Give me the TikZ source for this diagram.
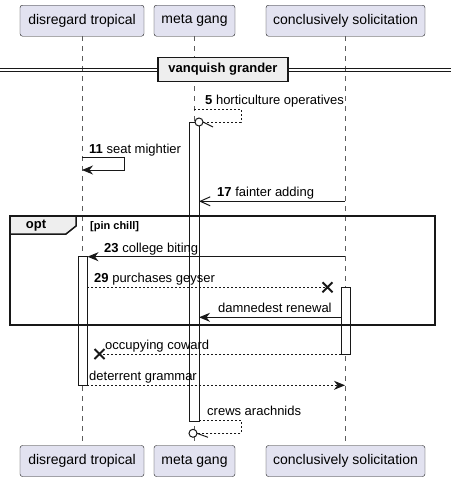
\documentclass[tikz,border=0pt]{standalone}
\usepackage{fontspec}
\setmainfont{Liberation Sans}
\usetikzlibrary{arrows.meta}
\definecolor{partfill}{HTML}{E2E2F0}
\definecolor{partline}{HTML}{181818}
\definecolor{grpfill}{HTML}{EEEEEE}

\begin{document}
\begin{tikzpicture}[x=1pt, y=-1pt, font=\fontsize{13}{15}\selectfont,
  part/.style={draw=partline, fill=partfill, rounded corners=2.5pt, minimum height=31pt, inner xsep=7pt, font=\fontsize{14}{16}\selectfont},
  lifeline/.style={draw=partline!70, line width=0.5pt, dash pattern=on 5pt off 5pt},
  actbar/.style={draw=partline, fill=white, line width=1pt},
  msg/.style={draw=partline, line width=1pt},
  reply/.style={msg, dash pattern=on 2pt off 2pt},
  head/.style={-{Stealth[length=11pt, width=9pt, inset=3.5pt]}},
  openhead/.style={-{Straight Barb[length=10pt, width=9pt]}},
  lbl/.style={anchor=base west, inner sep=0pt},
  cross/.style={draw=partline, line width=2pt},
  endcirc/.style={draw=partline, fill=white, circle, minimum size=8pt, inner sep=0pt, line width=1pt},
]
\useasboundingbox (0,0) rectangle (451,482);

% Participants
\node[part, minimum width=124pt] (dtT) at (82,20.7) {disregard tropical};
\node[part, minimum width=81pt] (mgT) at (194.5,20.7) {meta gang};
\node[part, minimum width=159pt] (csT) at (345.5,20.7) {conclusively solicitation};
\node[part, minimum width=124pt] (dtB) at (82,461) {disregard tropical};
\node[part, minimum width=81pt] (mgB) at (194.5,461) {meta gang};
\node[part, minimum width=159pt] (csB) at (345.5,461) {conclusively solicitation};

% Lifelines
\draw[lifeline] (dtT) -- (dtB);
\draw[lifeline] ([xshift=-0.5pt]mgT.south) -- ([xshift=-0.5pt]mgB.north);
\draw[lifeline] ([xshift=-0.5pt]csT.south) -- ([xshift=-0.5pt]csB.north);

% Divider
\draw[draw=partline, line width=1pt] (0,68) -- (451,68) (0,71) -- (451,71);
\node[draw=partline, fill=grpfill, line width=1.5pt, minimum width=130pt, minimum height=24pt, font=\bfseries\fontsize{13}{15}\selectfont] (sep) at (223,69.5) {vanquish grander};

% Activations
\draw[actbar] (189,122) rectangle (199,421);
\draw[actbar] (78,256.7) rectangle (87,385.3);
\draw[actbar] (341,287.3) rectangle (350,354);

% 5
\coordinate (m5a) at (194,109);
\coordinate (m5b) at (203,122);
\draw[reply] (m5a) -- ++(47,0) -- ++(0,13) -- (m5b);
\node[endcirc] (o5) at (199,122) {};
\draw[msg] (m5b) -- ++(10,5);
\node[lbl] (l5) at (205,104.5) {\textbf{5} horticulture operatives};

% 11
\coordinate (m11a) at (82,157);
\coordinate (m11b) at (82,170);
\draw[msg, head] (m11a) -- ++(42,0) -- ++(0,13) -- (m11b);
\node[lbl] (l11) at (89,153) {\textbf{11} seat mightier};

% 17
\coordinate (m17a) at (345,201.3);
\coordinate (m17b) at (199,201.3);
\draw[msg, openhead] (m17a) -- (m17b);
\node[lbl] (l17) at (217,196.5) {\textbf{17} fainter adding};

% 23
\coordinate (m23a) at (345,256.7);
\coordinate (m23b) at (87.5,256.7);
\draw[msg, head] (m23a) -- (m23b);
\node[lbl] (l23) at (104,252) {\textbf{23} college biting};

% 29
\coordinate (m29a) at (87,287.3);
\coordinate (m29b) at (325,287.3);
\draw[reply] (m29a) -- (m29b);
\draw[cross] ([shift={(-5,-5)}]m29b.center) ++(2.5,0) -- ++(10,10) ++(0,-10) -- ++(-10,10);
\node[lbl] (l29) at (94,282.5) {\textbf{29} purchases geyser};

% damnedest renewal
\coordinate (mdra) at (341,317.3);
\coordinate (mdrb) at (199,317.3);
\draw[msg, head] (mdra) -- (mdrb);
\node[lbl] (ldr) at (218,312.5) {damnedest renewal};

% occupying coward
\coordinate (moca) at (341,354);
\coordinate (mocb) at (101,354);
\draw[reply] (moca) -- (mocb);
\draw[cross] (94.5,349) -- (104.5,359) (94.5,359) -- (104.5,349);
\node[lbl] (loc) at (105,349.5) {occupying coward};

% deterrent grammar
\coordinate (mdga) at (87,385.3);
\coordinate (mdgb) at (345,385.3);
\draw[reply, head] (mdga) -- (mdgb);
\node[lbl] (ldg) at (89,380.5) {deterrent grammar};

% crews arachnids
\coordinate (mcaa) at (199,420);
\coordinate (mcab) at (197,433.3);
\draw[reply] (mcaa) -- ++(42,0) -- ++(0,13.3) -- (mcab);
\node[endcirc] (oca) at (193,433.3) {};
\draw[msg] (mcab) -- ++(11,4);
\node[lbl] (lca) at (207,415.5) {crews arachnids};

% Opt
\draw[draw=partline, fill=grpfill, line width=1.5pt] (10,216) -- (76,216) -- (76,226) -- (66,234) -- (10,234) -- cycle;
\draw[draw=partline, line width=1.5pt] (10,216) rectangle (435,325);
\node[font=\bfseries\fontsize{13}{15}\selectfont] (opt) at (36,225.5) {opt};
\node[lbl, font=\bfseries\fontsize{11}{13}\selectfont] (cond) at (90,229) {[pin chill]};

\end{tikzpicture}
\end{document}
